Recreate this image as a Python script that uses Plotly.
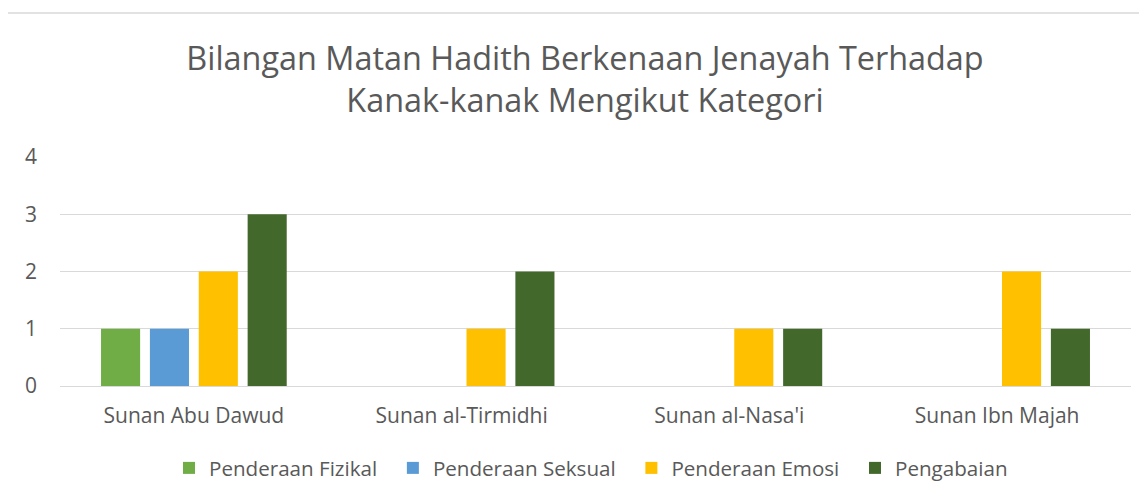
import plotly.graph_objects as go

categories = ["Sunan Abu Dawud", "Sunan al-Tirmidhi", "Sunan al-Nasa'i", "Sunan Ibn Majah"]
fizikal = [1, None, None, None]
seksual = [1, None, None, None]
emosi = [2, 1, 1, 2]
pengabaian = [3, 2, 1, 1]
series_names = ["Penderaan Fizikal", "Penderaan Seksual", "Penderaan Emosi", "Pengabaian"]
colors = ["#70AD47", "#5B9BD5", "#FFC000", "#43682B"]
y_ticks = [0, 1, 2, 3, 4]

FONT = "Open Sans"
GRAY = "#595959"

# page body has an 8px margin, so the figure is sized to fit inside it
W, H = 1131, 485
L, R, T, B = 52, 8, 149, 107
PW, PH = W - L - R, H - T - B

fig = go.Figure()
n = len(series_names)
for i, (name, vals, col) in enumerate(zip(series_names, [fizikal, seksual, emosi, pengabaian], colors)):
    label = name + ("\u00a0\u00a0" if i < n - 1 else "")
    fig.add_trace(go.Bar(x=categories, y=vals, name=label, marker_color=col, marker_line_width=0))

fig.update_layout(
    width=W, height=H,
    margin=dict(l=L, r=R, t=T, b=B),
    paper_bgcolor="white", plot_bgcolor="white",
    barmode="group", bargap=0.27, bargroupgap=0.2,
    title=dict(
        text="Bilangan Matan Hadith Berkenaan Jenayah Terhadap<br>Kanak-kanak Mengikut Kategori",
        x=577 / W, xref="container", xanchor="center",
        y=1 - 62 / H, yref="container", yanchor="top",
        font=dict(family=FONT, size=32.4, color=GRAY),
    ),
    font=dict(family=FONT, color=GRAY),
    legend=dict(
        orientation="h", x=583 / W, xref="container", xanchor="center",
        y=1 - 460 / H, yref="container", yanchor="middle",
        font=dict(family=FONT, size=20.6, color=GRAY),
        itemwidth=30, tracegroupgap=0,
    ),
    showlegend=True,
)
fig.update_xaxes(
    showline=True, linecolor="#D9D9D9", linewidth=1,
    tickfont=dict(family=FONT, size=21, color=GRAY),
    ticks="", showgrid=False, ticklabelstandoff=11,
)
fig.update_yaxes(
    range=[0, 4], tickvals=y_ticks,
    showgrid=True, gridcolor="#D9D9D9", gridwidth=1,
    zeroline=False, showline=False, ticks="",
    tickfont=dict(family=FONT, size=21, color=GRAY),
    ticklabelstandoff=22,
)
fig.add_shape(type="rect", xref="paper", yref="paper",
              x0=(-1 - L) / PW, x1=(1140 - L) / PW,
              y0=-0.6, y1=(T + PH - 5) / PH,
              line=dict(color="#D9D9D9", width=1.5), fillcolor="rgba(0,0,0,0)", layer="below")

fig.write_html("out.html")
